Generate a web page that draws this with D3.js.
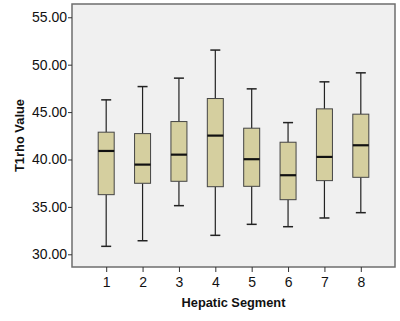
<!DOCTYPE html>
<html>
<head>
<meta charset="utf-8">
<script src="https://d3js.org/d3.v7.min.js"></script>
<style>
  body { margin: 0; background: #fff; }
  svg { display: block; font-family: "Liberation Sans", Arial, sans-serif; }
</style>
</head>
<body>
<svg width="400" height="321"></svg>
<script>
// five-number summaries
const segments = ["1", "2", "3", "4", "5", "6", "7", "8"];
const mins    = [30.84, 31.43, 35.13, 32.00, 33.16, 32.91, 33.83, 34.39];
const q1s     = [36.29, 37.49, 37.70, 37.13, 37.17, 35.76, 37.77, 38.12];
const medians = [40.90, 39.46, 40.51, 42.52, 40.03, 38.34, 40.27, 41.50];
const q3s     = [42.88, 42.73, 44.00, 46.43, 43.30, 41.82, 45.34, 44.78];
const maxs    = [46.29, 47.69, 48.58, 51.54, 47.45, 43.89, 48.19, 49.14];
const yTicks  = [30, 35, 40, 45, 50, 55];

const data = segments.map((s, i) => ({
    seg: s, min: mins[i], q1: q1s[i], med: medians[i], q3: q3s[i], max: maxs[i]
}));

const svg = d3.select("svg");
const margin = {left: 72, top: 4, right: 5, bottom: 54};
const width = 400 - margin.left - margin.right;
const height = 321 - margin.top - margin.bottom;

const g = svg.append("g").attr("transform", `translate(${margin.left},${margin.top})`);

const x = d3.scalePoint().domain(segments).range([0, width]).padding(0.94);
const y = d3.scaleLinear().domain([28.66, 56.4]).range([height, 0]);

// plot background
g.append("rect")
    .attr("width", width).attr("height", height)
    .attr("fill", "#f0f0f0")
    .attr("stroke", "#6e6e6e").attr("stroke-width", 1.5);

// axes
const yAxis = g.append("g")
    .call(d3.axisLeft(y).tickValues(yTicks).tickFormat(d3.format(".2f")).tickSize(4).tickSizeOuter(0));
const xAxis = g.append("g")
    .attr("transform", `translate(0,${height})`)
    .call(d3.axisBottom(x).tickSize(5).tickSizeOuter(0));
[yAxis, xAxis].forEach(a => {
    a.select(".domain").remove();
    a.selectAll("line").attr("stroke", "#333");
    a.selectAll("text").attr("font-size", 14).attr("fill", "#111")
        .attr("font-family", "Liberation Sans, Arial, sans-serif");
});
yAxis.selectAll("text").attr("dx", "0.15em");
xAxis.selectAll("text").attr("dy", "0.85em");

const boxW = 16, capW = 10;
const boxes = g.selectAll(".box").data(data).enter().append("g")
    .attr("class", "box")
    .attr("transform", d => `translate(${x(d.seg)},0)`);

// whiskers
boxes.append("line")
    .attr("y1", d => y(d.max)).attr("y2", d => y(d.q3))
    .attr("stroke", "#222").attr("stroke-width", 1.2);
boxes.append("line")
    .attr("y1", d => y(d.q1)).attr("y2", d => y(d.min))
    .attr("stroke", "#222").attr("stroke-width", 1.2);
boxes.append("line")
    .attr("x1", -capW / 2).attr("x2", capW / 2)
    .attr("y1", d => y(d.max)).attr("y2", d => y(d.max))
    .attr("stroke", "#222").attr("stroke-width", 1.5);
boxes.append("line")
    .attr("x1", -capW / 2).attr("x2", capW / 2)
    .attr("y1", d => y(d.min)).attr("y2", d => y(d.min))
    .attr("stroke", "#222").attr("stroke-width", 1.5);

// boxes
boxes.append("rect")
    .attr("x", -boxW / 2).attr("width", boxW)
    .attr("y", d => y(d.q3)).attr("height", d => y(d.q1) - y(d.q3))
    .attr("fill", "#d5cf9f").attr("stroke", "#444").attr("stroke-width", 1);

// medians
boxes.append("line")
    .attr("x1", -boxW / 2).attr("x2", boxW / 2)
    .attr("y1", d => y(d.med)).attr("y2", d => y(d.med))
    .attr("stroke", "#111").attr("stroke-width", 2.2);

// axis titles
svg.append("text")
    .attr("x", margin.left + width / 2).attr("y", 307)
    .attr("text-anchor", "middle")
    .attr("font-size", 12.8).attr("font-weight", "bold").attr("fill", "#111")
    .text("Hepatic Segment");
svg.append("text")
    .attr("transform", `translate(24,${margin.top + height / 2}) rotate(-90)`)
    .attr("text-anchor", "middle")
    .attr("font-size", 12.9).attr("font-weight", "bold").attr("fill", "#111")
    .text("T1rho Value");
</script>
</body>
</html>
